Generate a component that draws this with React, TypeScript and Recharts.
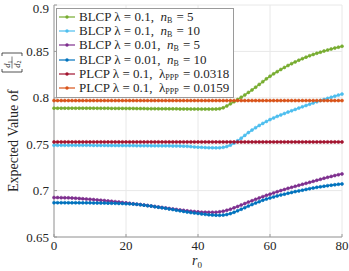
import React from 'react';
import { LineChart, Line, XAxis, YAxis, CartesianGrid, Legend } from 'recharts';

// r0 grid (x axis), one point per unit
const r0 = Array.from({ length: 81 }, (_, i) => i);

const xTicks = [0, 20, 40, 60, 80];
const yTicks = [0.65, 0.7, 0.75, 0.8, 0.85, 0.9];

// BLCP lambda = 0.1, nB = 5
const blcpL01N5 = [
  0.7888, 0.7888, 0.7888, 0.7888, 0.7888, 0.7888, 0.7888, 0.7888, 0.7888, 0.7888,
  0.7888, 0.7888, 0.7887, 0.7887, 0.7887, 0.7887, 0.7886, 0.7886, 0.7886, 0.7886,
  0.7885, 0.7885, 0.7885, 0.7884, 0.7884, 0.7884, 0.7883, 0.7883, 0.7883, 0.7882,
  0.7882, 0.7882, 0.7881, 0.7881, 0.7881, 0.788, 0.788, 0.788, 0.7879, 0.7879,
  0.7879, 0.7878, 0.7878, 0.7878, 0.7878, 0.7879, 0.7882, 0.7892, 0.7912, 0.7935,
  0.7958, 0.7982, 0.8006, 0.8031, 0.8058, 0.8085, 0.8114, 0.8144, 0.8174, 0.8204,
  0.8232, 0.8258, 0.8282, 0.8305, 0.8327, 0.8348, 0.8368, 0.8387, 0.8405, 0.8422,
  0.8438, 0.8453, 0.8467, 0.848, 0.8492, 0.8504, 0.8515, 0.8526, 0.8536, 0.8546, 0.8555,
];

// BLCP lambda = 0.1, nB = 10
const blcpL01N10 = [
  0.7488, 0.7488, 0.7488, 0.7488, 0.7488, 0.7488, 0.7488, 0.7488, 0.7488, 0.7488,
  0.7488, 0.7487, 0.7487, 0.7487, 0.7487, 0.7486, 0.7486, 0.7486, 0.7486, 0.7485,
  0.7485, 0.7485, 0.7485, 0.7484, 0.7484, 0.7484, 0.7484, 0.7483, 0.7483, 0.7483,
  0.7482, 0.7482, 0.7482, 0.7481, 0.7481, 0.748, 0.7479, 0.7477, 0.7474, 0.7471,
  0.7468, 0.7466, 0.7464, 0.7463, 0.7462, 0.7461, 0.7462, 0.7466, 0.7475, 0.749,
  0.7512, 0.7537, 0.7565, 0.7595, 0.7625, 0.7652, 0.7678, 0.7702, 0.7724, 0.7745,
  0.7765, 0.7783, 0.78, 0.7816, 0.7831, 0.7846, 0.786, 0.7875, 0.7889, 0.7903,
  0.7917, 0.7931, 0.7944, 0.7957, 0.797, 0.7982, 0.7994, 0.8006, 0.8018, 0.8029, 0.804,
];

// BLCP lambda = 0.01, nB = 5
const blcpL001N5 = [
  0.6925, 0.6925, 0.6924, 0.6923, 0.6922, 0.692, 0.6918, 0.6915, 0.6912, 0.6909,
  0.6906, 0.6903, 0.69, 0.6896, 0.6893, 0.6889, 0.6885, 0.6881, 0.6877, 0.6872,
  0.6868, 0.6863, 0.6858, 0.6854, 0.6849, 0.6844, 0.6839, 0.6834, 0.6828, 0.6823,
  0.6818, 0.6813, 0.6807, 0.6802, 0.6797, 0.6792, 0.6787, 0.6782, 0.6778, 0.6774,
  0.6771, 0.6768, 0.6767, 0.6766, 0.6766, 0.6767, 0.6771, 0.6778, 0.6788, 0.68,
  0.6814, 0.6829, 0.6845, 0.686, 0.6876, 0.6891, 0.6906, 0.6921, 0.6935, 0.6949,
  0.6962, 0.6975, 0.6988, 0.7, 0.7012, 0.7024, 0.7035, 0.7046, 0.7057, 0.7068,
  0.7078, 0.7089, 0.71, 0.7111, 0.7122, 0.7133, 0.7143, 0.7153, 0.7162, 0.7171, 0.718,
];

// BLCP lambda = 0.01, nB = 10
const blcpL001N10 = [
  0.687, 0.687, 0.687, 0.687, 0.6869, 0.6869, 0.6869, 0.6869, 0.6868, 0.6868,
  0.6868, 0.6867, 0.6867, 0.6866, 0.6866, 0.6865, 0.6864, 0.6863, 0.6862, 0.6861,
  0.6859, 0.6857, 0.6855, 0.6852, 0.6848, 0.6843, 0.6838, 0.6833, 0.6827, 0.6821,
  0.6815, 0.6809, 0.6802, 0.6796, 0.6789, 0.6782, 0.6776, 0.6769, 0.6763, 0.6759,
  0.6754, 0.6749, 0.6744, 0.674, 0.6737, 0.6735, 0.6734, 0.6736, 0.6742, 0.6752,
  0.6766, 0.6782, 0.6799, 0.6816, 0.6833, 0.685, 0.6866, 0.6881, 0.6896, 0.6909,
  0.6921, 0.6932, 0.6943, 0.6953, 0.6962, 0.6971, 0.698, 0.6989, 0.6997, 0.7005,
  0.7013, 0.7021, 0.7028, 0.7035, 0.7041, 0.7047, 0.7053, 0.7058, 0.7063, 0.7068, 0.7072,
];

// PLCP lambda = 0.1, lambda_PPP = 0.0318 (flat)
const plcpP0318 = [
  0.7525, 0.7525, 0.7525, 0.7525, 0.7525, 0.7525, 0.7525, 0.7525, 0.7525, 0.7525,
  0.7525, 0.7525, 0.7525, 0.7525, 0.7525, 0.7525, 0.7525, 0.7525, 0.7525, 0.7525,
  0.7525, 0.7525, 0.7525, 0.7525, 0.7525, 0.7525, 0.7525, 0.7525, 0.7525, 0.7525,
  0.7525, 0.7525, 0.7525, 0.7525, 0.7525, 0.7525, 0.7525, 0.7525, 0.7525, 0.7525,
  0.7525, 0.7525, 0.7525, 0.7525, 0.7525, 0.7525, 0.7525, 0.7525, 0.7525, 0.7525,
  0.7525, 0.7525, 0.7525, 0.7525, 0.7525, 0.7525, 0.7525, 0.7525, 0.7525, 0.7525,
  0.7525, 0.7525, 0.7525, 0.7525, 0.7525, 0.7525, 0.7525, 0.7525, 0.7525, 0.7525,
  0.7525, 0.7525, 0.7525, 0.7525, 0.7525, 0.7525, 0.7525, 0.7525, 0.7525, 0.7525, 0.7525,
];

// PLCP lambda = 0.1, lambda_PPP = 0.0159 (flat)
const plcpP0159 = [
  0.797, 0.797, 0.797, 0.797, 0.797, 0.797, 0.797, 0.797, 0.797, 0.797,
  0.797, 0.797, 0.797, 0.797, 0.797, 0.797, 0.797, 0.797, 0.797, 0.797,
  0.797, 0.797, 0.797, 0.797, 0.797, 0.797, 0.797, 0.797, 0.797, 0.797,
  0.797, 0.797, 0.797, 0.797, 0.797, 0.797, 0.797, 0.797, 0.797, 0.797,
  0.797, 0.797, 0.797, 0.797, 0.797, 0.797, 0.797, 0.797, 0.797, 0.797,
  0.797, 0.797, 0.797, 0.797, 0.797, 0.797, 0.797, 0.797, 0.797, 0.797,
  0.797, 0.797, 0.797, 0.797, 0.797, 0.797, 0.797, 0.797, 0.797, 0.797,
  0.797, 0.797, 0.797, 0.797, 0.797, 0.797, 0.797, 0.797, 0.797, 0.797, 0.797,
];

const series = [
  { key: 'a', values: blcpL01N5, color: '#77AC30', model: 'BLCP', lambda: '0.1', param: 'n', sub: 'B', val: '5' },
  { key: 'b', values: blcpL01N10, color: '#4DBEEE', model: 'BLCP', lambda: '0.1', param: 'n', sub: 'B', val: '10' },
  { key: 'c', values: blcpL001N5, color: '#7E2F8E', model: 'BLCP', lambda: '0.01', param: 'n', sub: 'B', val: '5' },
  { key: 'd', values: blcpL001N10, color: '#0072BD', model: 'BLCP', lambda: '0.01', param: 'n', sub: 'B', val: '10' },
  { key: 'e', values: plcpP0318, color: '#A2142F', model: 'PLCP', lambda: '0.1', param: 'λ', sub: 'PPP', val: '0.0318' },
  { key: 'f', values: plcpP0159, color: '#D95319', model: 'PLCP', lambda: '0.1', param: 'λ', sub: 'PPP', val: '0.0159' },
];

const data = r0.map((r, i) => {
  const row: Record<string, number> = { r0: r };
  series.forEach((s) => { row[s.key] = s.values[i]; });
  return row;
});

const font = '"Liberation Serif", "Times New Roman", serif';
const axisColor = '#9a9a9a';
const textColor = '#262626';

const LegendBox = () => (
  <div style={styles.legend}>
    {series.map((s) => (
      <div key={s.key} style={styles.legendRow}>
        <svg width={17} height={8} style={{ marginRight: 3 }}>
          <line x1={0} x2={16} y1={4} y2={4} stroke={s.color} strokeWidth={1.2} />
          <circle cx={8} cy={4} r={1.7} fill={s.color} />
        </svg>
        <span style={{ lineHeight: '12px' }}>
          {s.model} λ = {s.lambda},&nbsp;&nbsp;
          <span style={{ fontStyle: s.param === 'n' ? 'italic' : 'normal' }}>{s.param}</span>
          <span style={{ fontSize: 8, lineHeight: '8px', position: 'relative', top: 2, marginRight: 1 }}>{s.sub}</span> = {s.val}
        </span>
      </div>
    ))}
  </div>
);

const YLabel = () => (
  <g transform="translate(18,192) rotate(-90)" fontFamily={font} fill={textColor}>
    <text x={0} y={0} fontSize={14} fontFamily={font}>Expected Value of</text>
    <path d="M123,-16 L120,-16 L120,4 L123,4" stroke={textColor} strokeWidth={0.8} fill="none" />
    <text x={128} y={-8} fontSize={8.5} fontStyle="italic" textAnchor="middle" fontFamily={font}>
      d<tspan fontSize={6} fontStyle="normal" dy={1.5}>1</tspan>
    </text>
    <line x1={123.5} x2={135.5} y1={-6} y2={-6} stroke={textColor} strokeWidth={0.6} />
    <text x={128} y={1.5} fontSize={8.5} fontStyle="italic" textAnchor="middle" fontFamily={font}>
      d<tspan fontSize={6} fontStyle="normal" dy={1.5}>2</tspan>
    </text>
    <path d="M136,-16 L139,-16 L139,4 L136,4" stroke={textColor} strokeWidth={0.8} fill="none" />
  </g>
);

const XLabel = () => (
  <text x={197} y={265} fontFamily={font} fontSize={14} fill={textColor} textAnchor="middle">
    <tspan fontStyle="italic">r</tspan>
    <tspan fontSize={9} dy={3}>0</tspan>
  </text>
);

const tickStyle = { fontFamily: font, fontSize: 13, fill: textColor, style: { fontFamily: font } };

export default function App() {
  return (
    <div style={{ position: 'absolute', left: 0, top: 0, width: 349, height: 271, background: '#fff', fontFamily: font }}>
      <LineChart width={349} height={271} data={data} margin={{ top: 5, right: 7, bottom: 0, left: 0 }} style={{ fontFamily: font }}>
        <CartesianGrid stroke="#e8e8e8" strokeWidth={1} />
        <XAxis
          dataKey="r0"
          type="number"
          domain={[0, 80]}
          ticks={xTicks}
          height={34}
          tickSize={-3}
          tickMargin={7}
          tick={tickStyle}
          axisLine={{ stroke: axisColor }}
          tickLine={{ stroke: axisColor }}
          label={{ content: () => <XLabel /> }}
        />
        <XAxis
          xAxisId="top"
          dataKey="r0"
          type="number"
          orientation="top"
          domain={[0, 80]}
          ticks={xTicks}
          height={0}
          tickSize={-3}
          tick={false}
          axisLine={{ stroke: axisColor }}
          tickLine={{ stroke: axisColor }}
        />
        <YAxis
          type="number"
          domain={[0.65, 0.9]}
          ticks={yTicks}
          width={54}
          tickSize={-3}
          tickMargin={8}
          tick={tickStyle}
          tickFormatter={(v: number) => String(v)}
          axisLine={{ stroke: axisColor }}
          tickLine={{ stroke: axisColor }}
          allowDataOverflow
          label={{ content: () => <YLabel /> }}
        />
        <YAxis
          yAxisId="right"
          type="number"
          orientation="right"
          domain={[0.65, 0.9]}
          ticks={yTicks}
          width={0}
          tickSize={-3}
          tick={false}
          axisLine={{ stroke: axisColor }}
          tickLine={{ stroke: axisColor }}
        />
        <Legend
          layout="horizontal"
          verticalAlign="middle"
          align="center"
          content={() => <LegendBox />}
          wrapperStyle={{ top: 8, left: 56, width: 'auto' }}
        />
        {series.map((s) => (
          <Line
            key={s.key}
            type="linear"
            dataKey={s.key}
            stroke={s.color}
            strokeWidth={1.3}
            dot={{ r: 1.5, fill: s.color, stroke: s.color, strokeWidth: 0.6 }}
            activeDot={false}
            isAnimationActive={false}
          />
        ))}
      </LineChart>
    </div>
  );
}

const styles = {
  legend: {
    fontFamily: font,
    fontSize: 13,
    color: textColor,
    background: '#fff',
    border: `1px solid ${axisColor}`,
    padding: '1px 4px 2px 2px',
    lineHeight: '14.2px',
    whiteSpace: 'nowrap' as const,
  },
  legendRow: {
    display: 'flex',
    alignItems: 'center',
    height: 14.2,
  },
};
